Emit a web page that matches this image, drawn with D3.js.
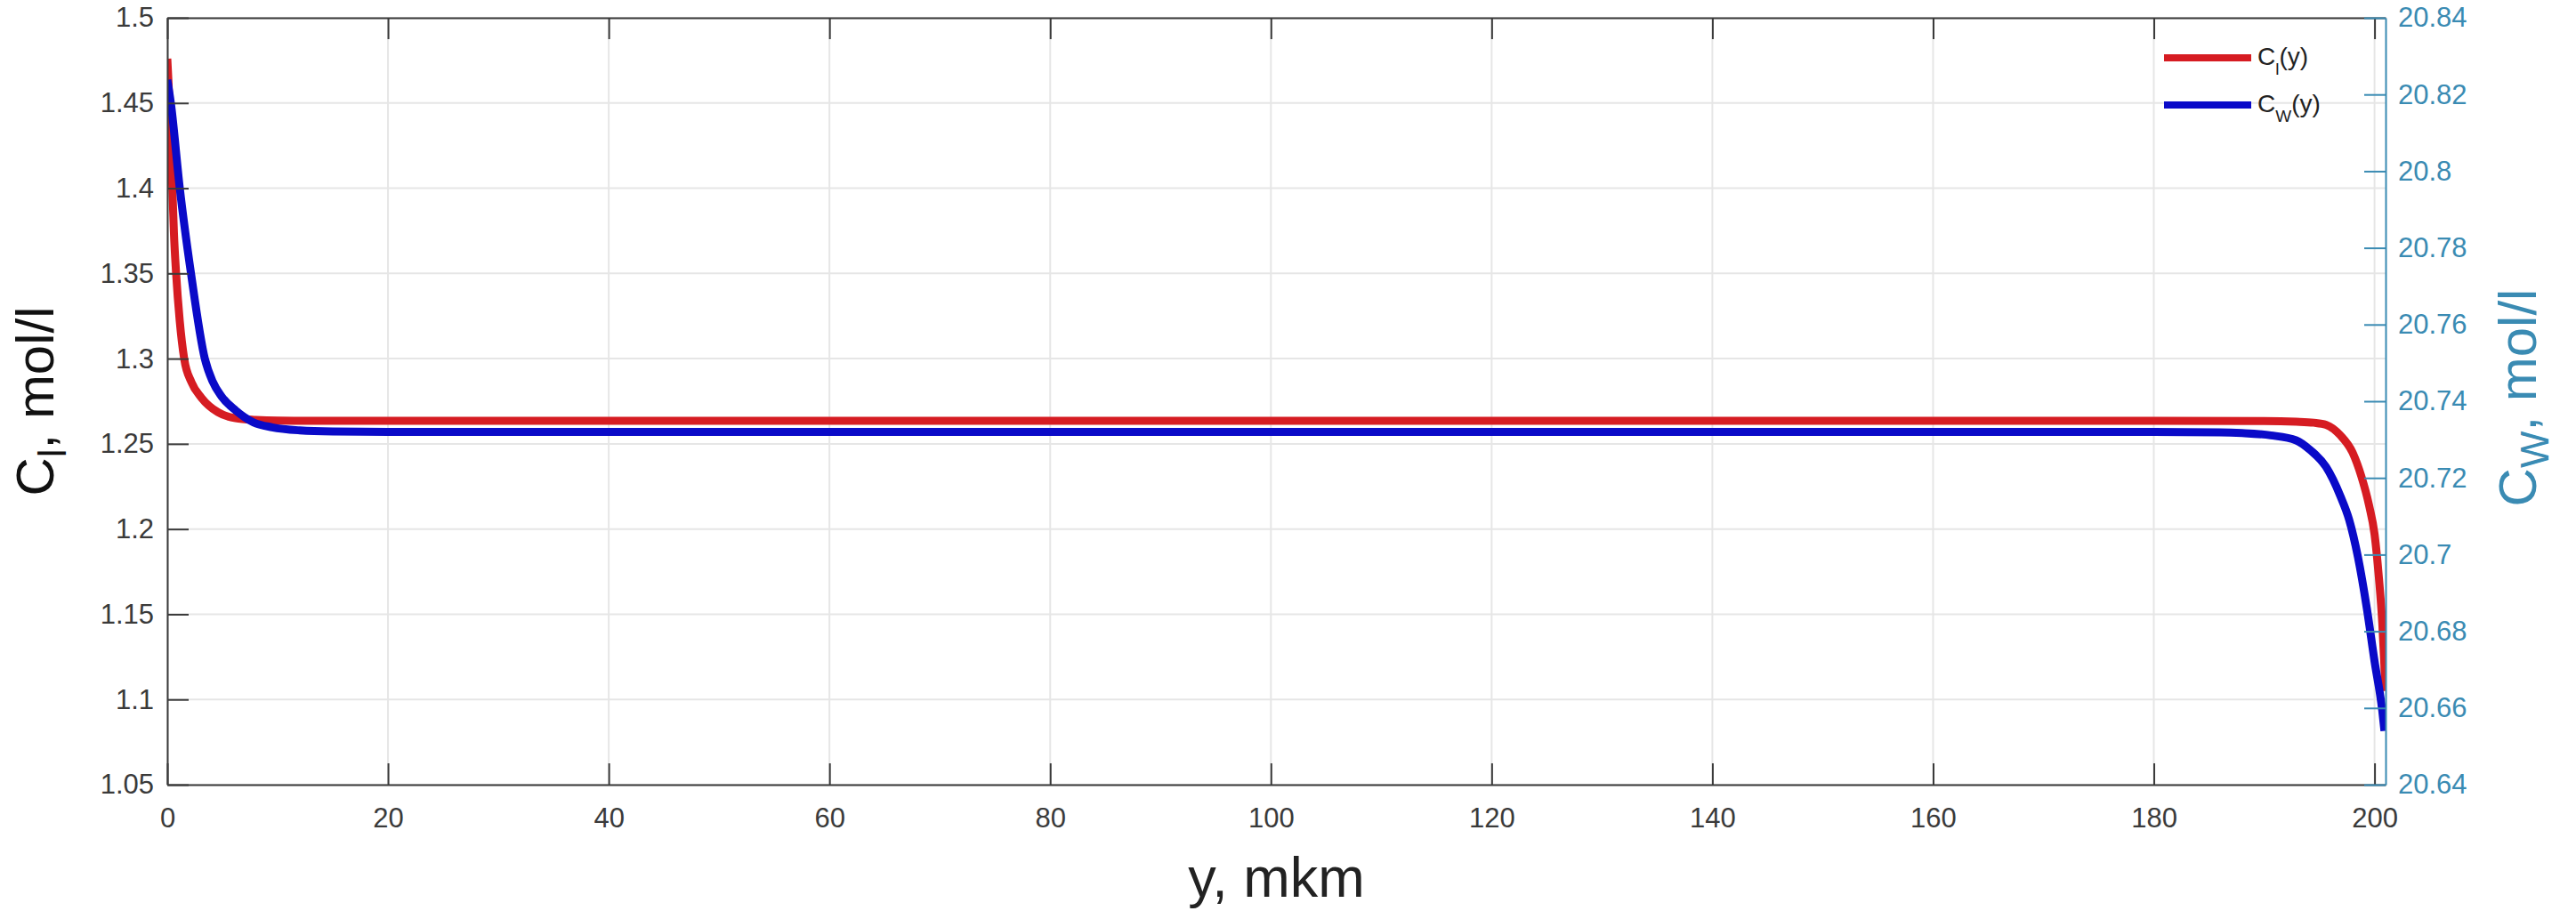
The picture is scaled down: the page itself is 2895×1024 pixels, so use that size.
<!DOCTYPE html>
<html>
<head>
<meta charset="utf-8">
<script src="https://cdn.jsdelivr.net/npm/d3@7/dist/d3.min.js"></script>
<style>
  html, body { margin: 0; padding: 0; background: #fff; }
  svg { display: block; font-family: "Liberation Sans", Arial, sans-serif; }
</style>
</head>
<body>
<svg id="chart" width="2895" height="1024"></svg>
<script>
// ---- data ----
const xTicks = [0, 20, 40, 60, 80, 100, 120, 140, 160, 180, 200];
const leftTicks = [1.05, 1.1, 1.15, 1.2, 1.25, 1.3, 1.35, 1.4, 1.45, 1.5];
const rightTicks = [20.64, 20.66, 20.68, 20.7, 20.72, 20.74, 20.76, 20.78, 20.8, 20.82, 20.84];

// C_l(y), left axis, mol/l
const clY = [0, 0.19, 0.32, 0.46, 0.6, 0.8, 1.13, 1.53, 2.2, 3.1, 4.6, 6.2, 8, 10, 20, 40, 60, 80, 100, 120, 140, 160, 180, 190, 192.9, 194.5, 195.6, 196.9, 198.0, 198.8, 199.5, 200.0, 200.4, 200.7, 200.9, 201.0];
const clV = [1.476, 1.45, 1.426, 1.40, 1.374, 1.35, 1.322, 1.30, 1.286, 1.277, 1.2685, 1.265, 1.264, 1.2636, 1.2635, 1.2635, 1.2635, 1.2635, 1.2635, 1.2635, 1.2635, 1.2635, 1.2635, 1.2634, 1.2630, 1.2624, 1.2612, 1.255, 1.245, 1.231, 1.214, 1.197, 1.171, 1.145, 1.119, 1.105];

// C_W(y), right axis, mol/l
const cwY = [0, 0.32, 1.13, 2.15, 3.4, 4.1, 4.9, 6.2, 7.8, 9.5, 12, 15, 20, 40, 60, 80, 100, 120, 140, 160, 180, 186, 188, 190.6, 192.9, 194.2, 195.6, 196.9, 197.7, 198.5, 199.3, 200.0, 200.7, 200.9];
const cwV = [20.8238, 20.8178, 20.7956, 20.7733, 20.7511, 20.7452, 20.7413, 20.7376, 20.7345, 20.7332, 20.7324, 20.7321, 20.732, 20.732, 20.732, 20.732, 20.732, 20.732, 20.732, 20.732, 20.732, 20.7319, 20.7317, 20.7311, 20.7298, 20.7272, 20.7229, 20.7153, 20.7091, 20.6993, 20.6860, 20.6722, 20.6593, 20.6540];

const seriesNames = ["C_l(y)", "C_W(y)"];

// ---- layout ----
const L = 188, R = 2681, T = 20, B = 882;
const gray = "#3a3a3a", teal = "#3a8bb3", red = "#d61c22", blue = "#0a0ac8";

const svg = d3.select("#chart");
const x = d3.scaleLinear().domain([0, 201]).range([L, R]);
const yL = d3.scaleLinear().domain([1.05, 1.5]).range([B, T]);
const yR = d3.scaleLinear().domain([20.64, 20.84]).range([B, T]);
const fmt = d => String(+d.toFixed(2));

// grid
const grid = svg.append("g");
grid.selectAll("line.gx").data(xTicks).join("line")
  .attr("x1", d => x(d)).attr("x2", d => x(d)).attr("y1", T).attr("y2", B)
  .attr("stroke", "#e6e6e6").attr("stroke-width", 2);
grid.selectAll("line.gy").data(leftTicks).join("line")
  .attr("x1", L).attr("x2", R).attr("y1", d => yL(d)).attr("y2", d => yL(d))
  .attr("stroke", "#e6e6e6").attr("stroke-width", 2);

// curves
svg.append("clipPath").attr("id", "clip").append("rect")
  .attr("x", L).attr("y", T - 10).attr("width", R - L).attr("height", B - T + 10);
const plot = svg.append("g").attr("clip-path", "url(#clip)");
const lineL = d3.line().x(d => x(d[0])).y(d => yL(d[1])).curve(d3.curveMonotoneX);
const lineR = d3.line().x(d => x(d[0])).y(d => yR(d[1])).curve(d3.curveMonotoneX);
plot.append("path").datum(d3.zip(clY, clV)).attr("d", lineL)
  .attr("fill", "none").attr("stroke", red).attr("stroke-width", 9).attr("stroke-linejoin", "round");
plot.append("path").datum(d3.zip(cwY, cwV)).attr("d", lineR)
  .attr("fill", "none").attr("stroke", blue).attr("stroke-width", 9).attr("stroke-linejoin", "round");

// axes
function styleAxis(g, color) {
  g.select(".domain").attr("stroke", color).attr("stroke-width", 2);
  g.selectAll(".tick line").attr("stroke", color).attr("stroke-width", 2);
  g.selectAll(".tick text").attr("fill", color).attr("font-size", 31)
    .attr("font-family", "Liberation Sans, Arial, sans-serif");
}
const axB = svg.append("g").attr("transform", `translate(0,${B})`)
  .call(d3.axisBottom(x).tickValues(xTicks).tickFormat(fmt).tickSizeInner(-24).tickSizeOuter(0).tickPadding(26));
styleAxis(axB, gray);
const axT = svg.append("g").attr("transform", `translate(0,${T})`)
  .call(d3.axisTop(x).tickValues(xTicks).tickFormat("").tickSizeInner(-24).tickSizeOuter(0));
styleAxis(axT, gray);
const axL = svg.append("g").attr("transform", `translate(${L},0)`)
  .call(d3.axisLeft(yL).tickValues(leftTicks).tickFormat(fmt).tickSizeInner(-24).tickSizeOuter(0).tickPadding(15));
styleAxis(axL, gray);
const axR = svg.append("g").attr("transform", `translate(${R},0)`)
  .call(d3.axisRight(yR).tickValues(rightTicks).tickFormat(fmt).tickSizeInner(-24).tickSizeOuter(0).tickPadding(14));
styleAxis(axR, teal);

// axis titles
svg.append("text").attr("x", (L + R) / 2).attr("y", 1008)
  .attr("text-anchor", "middle").attr("font-size", 63).attr("fill", "#222").text("y, mkm");

const lt = svg.append("text").attr("transform", `translate(60,${(T + B) / 2}) rotate(-90)`)
  .attr("text-anchor", "middle").attr("font-size", 60).attr("fill", "#111");
lt.append("tspan").text("C");
lt.append("tspan").attr("dy", 14).attr("font-size", 44).text("l");
lt.append("tspan").attr("dy", -14).text(", mol/l");

const rt = svg.append("text").attr("transform", `translate(2850,${(T + B) / 2 - 4}) rotate(-90)`)
  .attr("text-anchor", "middle").attr("font-size", 60).attr("fill", teal);
rt.append("tspan").text("C");
rt.append("tspan").attr("dy", 14).attr("font-size", 44).text("W");
rt.append("tspan").attr("dy", -14).text(", mol/l");

// legend
const legend = svg.append("g");
const legItems = [{name: seriesNames[0], color: red, y: 65, main: "C", sub: "l"},
                  {name: seriesNames[1], color: blue, y: 118, main: "C", sub: "W"}];
legItems.forEach(it => {
  legend.append("line").attr("x1", 2432).attr("x2", 2530).attr("y1", it.y).attr("y2", it.y)
    .attr("stroke", it.color).attr("stroke-width", 8);
  const t = legend.append("text").attr("x", 2537).attr("y", it.y + 8)
    .attr("font-size", 28).attr("fill", "#222");
  t.append("tspan").text(it.main);
  t.append("tspan").attr("dy", 11).attr("font-size", 19).text(it.sub);
  t.append("tspan").attr("dy", -11).text("(y)");
});
</script>
</body>
</html>
